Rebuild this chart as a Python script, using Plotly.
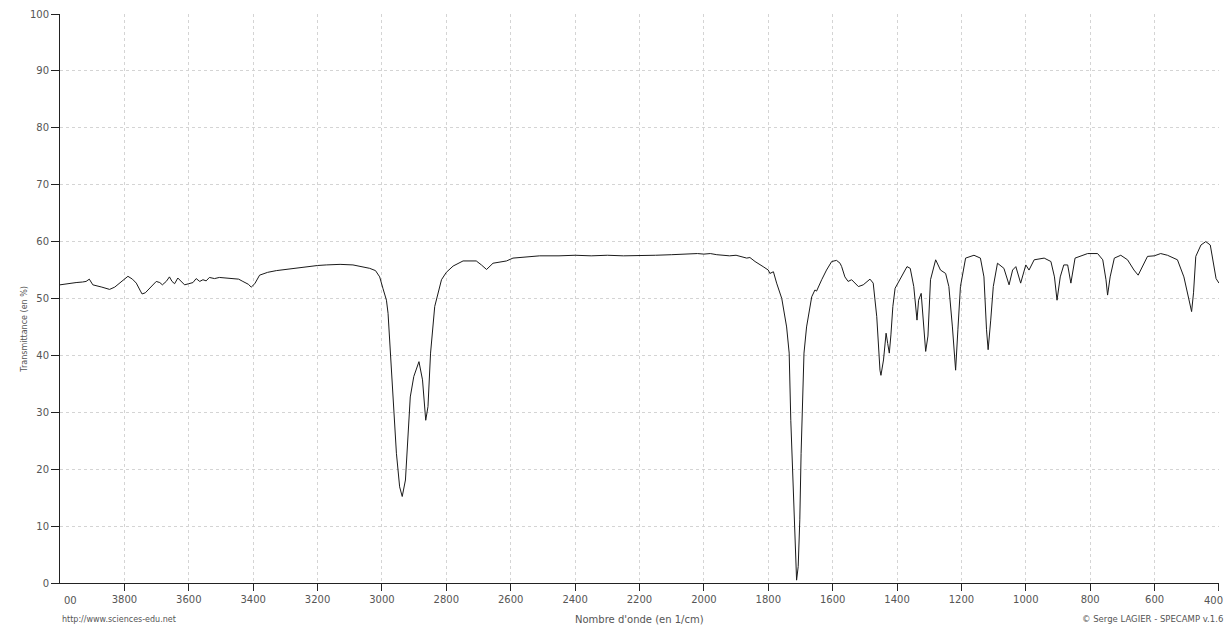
import plotly.graph_objects as go

# Wavenumber (cm-1) and transmittance (%)
wavenumber = [
    4000, 3980, 3950, 3930, 3919, 3909, 3898, 3870, 3846, 3830, 3815, 3800, 3789, 3775, 3763,
    3750, 3745, 3735, 3727, 3715, 3701, 3690, 3682, 3670, 3660, 3652, 3644, 3634, 3625, 3613,
    3600, 3587, 3577, 3566, 3556, 3546, 3536, 3520, 3505, 3485, 3464, 3445, 3432, 3415, 3406,
    3395, 3380, 3355, 3328, 3300, 3277, 3240, 3200, 3173, 3130, 3090, 3060, 3038, 3020, 3007,
    2997, 2986, 2981, 2971, 2966, 2955, 2945, 2937, 2927, 2919, 2912, 2901, 2885, 2874, 2864,
    2857, 2849, 2836, 2815, 2800, 2779, 2748, 2707, 2691, 2675, 2655, 2613, 2593, 2550, 2510,
    2450, 2400, 2350, 2300, 2250, 2200, 2150, 2100, 2050, 2020, 2000, 1980, 1960, 1940, 1920,
    1900, 1888, 1867, 1857, 1841, 1816, 1800, 1795, 1784, 1774, 1758, 1743, 1735, 1730, 1724,
    1716, 1712, 1707, 1702, 1698, 1693, 1689, 1681, 1665, 1655, 1650, 1634, 1619, 1603, 1588,
    1577, 1572, 1562, 1552, 1541, 1531, 1520, 1505, 1484, 1474, 1463, 1453, 1450, 1442, 1434,
    1429, 1424, 1419, 1413, 1406, 1390, 1369, 1359, 1348, 1338, 1333, 1325, 1319, 1311, 1304,
    1296, 1280, 1265, 1249, 1239, 1228, 1218, 1211, 1203, 1187, 1161, 1141, 1130, 1122, 1117,
    1109, 1101, 1088, 1068, 1052, 1041, 1031, 1016, 1000, 990, 974, 943, 922, 911, 903,
    893, 882, 870, 860, 847, 808, 777, 761, 751, 746, 738, 725, 705, 684, 664,
    651, 638, 622, 601, 581, 560, 529, 509, 493, 485, 479, 472, 456, 441, 427,
    416, 409, 400,
]
transmittance = [
    52.4, 52.6, 52.8, 52.9, 53.0, 53.4, 52.4, 52.0, 51.6, 52.0, 52.7, 53.3, 53.9, 53.4, 52.7,
    51.3, 50.8, 51.0, 51.5, 52.3, 53.0, 52.8, 52.4, 53.0, 53.8, 53.0, 52.6, 53.6, 53.0, 52.4,
    52.6, 52.8, 53.5, 53.0, 53.3, 53.1, 53.7, 53.5, 53.7, 53.6, 53.6, 53.4, 53.0, 52.5, 52.0,
    52.6, 54.1, 54.6, 54.9, 55.1, 55.3, 55.6, 55.8, 55.9, 56.0, 55.9, 55.6, 55.3, 54.9, 53.8,
    51.8, 49.7, 47.4, 38.7, 32.7, 22.8, 16.9, 15.2, 18.1, 25.1, 32.7, 36.3, 38.9, 35.7, 28.6,
    31.0, 40.4, 48.6, 53.3, 54.6, 55.7, 56.6, 56.6, 55.9, 55.1, 56.2, 56.6, 57.1, 57.3, 57.5,
    57.5, 57.6, 57.5, 57.6, 57.5, 57.5, 57.6, 57.7, 57.8, 57.9, 57.8, 57.9, 57.7, 57.6, 57.5,
    57.6, 57.4, 57.1, 57.2, 56.5, 55.6, 55.0, 54.4, 54.7, 52.7, 50.0, 45.0, 40.4, 28.6, 19.9,
    8.1, 0.5, 2.9, 11.1, 22.8, 34.5, 40.4, 45.0, 50.3, 51.5, 51.3, 53.3, 55.0, 56.5, 56.7,
    56.2, 55.6, 53.8, 53.0, 53.3, 52.7, 52.1, 52.4, 53.4, 52.7, 46.8, 37.4, 36.5, 39.2, 43.9,
    42.1, 40.4, 43.6, 48.6, 51.8, 53.5, 55.6, 55.3, 52.1, 46.2, 49.7, 50.9, 46.2, 40.7, 43.4,
    53.3, 56.8, 55.0, 54.4, 52.1, 45.0, 37.4, 44.5, 52.1, 57.1, 57.6, 57.1, 53.8, 44.5, 41.0,
    46.2, 52.1, 56.2, 55.3, 52.4, 55.0, 55.6, 52.7, 55.9, 55.0, 56.8, 57.1, 56.5, 53.8, 49.7,
    53.8, 55.9, 55.9, 52.7, 57.1, 57.9, 57.9, 56.8, 53.3, 50.6, 53.8, 57.1, 57.6, 56.8, 55.0,
    54.1, 55.6, 57.4, 57.5, 57.9, 57.6, 56.8, 53.8, 49.7, 47.7, 51.0, 57.4, 59.4, 60.0, 59.4,
    56.2, 53.5, 52.7,
]

x_ticks = [3800, 3600, 3400, 3200, 3000, 2800, 2600, 2400, 2200, 2000, 1800,
           1600, 1400, 1200, 1000, 800, 600, 400]
y_ticks = [0, 10, 20, 30, 40, 50, 60, 70, 80, 90, 100]

FONT = "DejaVu Sans"
TXT = "#555555"

fig = go.Figure()
fig.add_trace(go.Scatter(
    x=wavenumber, y=transmittance, mode="lines",
    line=dict(color="#1a1a1a", width=1), hoverinfo="x+y",
))

# last label (at the right edge) is drawn as an annotation so it stays inside the page
x_ticktext = [str(v) for v in x_ticks[:-1]] + [""]

fig.update_layout(
    width=1227, height=626,
    margin=dict(l=60, r=8, t=14, b=43),
    paper_bgcolor="white", plot_bgcolor="white",
    showlegend=False,
    font=dict(family=FONT, size=10, color=TXT),
    xaxis=dict(
        range=[4000, 399.9], tickvals=x_ticks, ticktext=x_ticktext,
        showgrid=True, gridcolor="#d4d4d4", griddash="3px,3px", gridwidth=1,
        showline=True, linecolor="#222222", linewidth=1,
        ticks="outside", ticklen=7, tickcolor="#222222",
        zeroline=False, tickfont=dict(family=FONT, size=10, color=TXT),
    ),
    yaxis=dict(
        range=[0, 100], tickvals=y_ticks,
        showgrid=True, gridcolor="#d4d4d4", griddash="3px,3px", gridwidth=1,
        showline=True, linecolor="#222222", linewidth=1,
        ticks="outside", ticklen=8, tickcolor="#222222",
        zeroline=False, tickfont=dict(family=FONT, size=10, color=TXT),
    ),
    annotations=[
        dict(text="00", xref="paper", yref="paper", x=0, y=0, xanchor="left",
             yanchor="middle", yshift=-17, xshift=2, showarrow=False,
             font=dict(family=FONT, size=10, color=TXT)),
        dict(text=str(x_ticks[-1]), xref="paper", yref="paper", x=1, y=0, xanchor="right",
             yanchor="middle", yshift=-17, xshift=6, showarrow=False,
             font=dict(family=FONT, size=10, color=TXT)),
        dict(text="Transmittance (en %)", xref="paper", yref="paper", x=0, y=0.446,
             xshift=-42, textangle=-90, showarrow=False,
             font=dict(family=FONT, size=8, color=TXT)),
        dict(text="Nombre d'onde (en 1/cm)", xref="paper", yref="paper", x=0.5, y=0,
             yanchor="middle", yshift=-36, showarrow=False,
             font=dict(family=FONT, size=10, color=TXT)),
        dict(text="http://www.sciences-edu.net", xref="paper", yref="paper", x=0, y=0,
             xanchor="left", yanchor="middle", yshift=-36, showarrow=False,
             font=dict(family=FONT, size=8, color=TXT)),
        dict(text="© Serge LAGIER - SPECAMP v.1.6", xref="paper", yref="paper", x=1, y=0,
             xanchor="right", yanchor="middle", yshift=-36, xshift=6, showarrow=False,
             font=dict(family=FONT, size=8.5, color=TXT)),
    ],
)

fig.write_html("out.html", config={"displayModeBar": False},
               post_script="document.body.style.margin='0';")
